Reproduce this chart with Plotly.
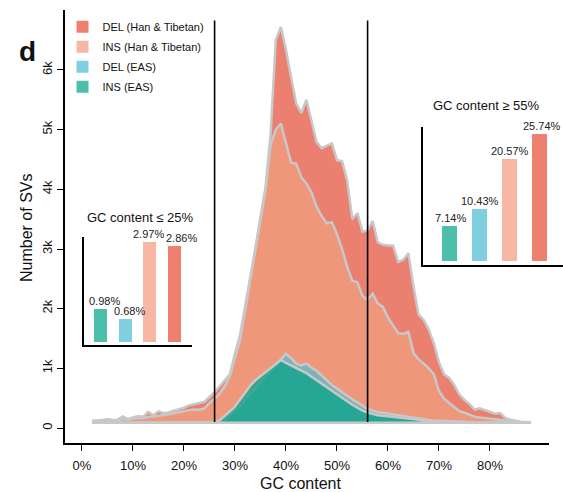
import plotly.graph_objects as go

# ---------------- data ----------------
gc_pct = list(range(2, 89))  # GC content bins (%)

del_han = [120,125,135,150,135,140,195,150,180,200,
           190,270,215,280,250,260,290,310,340,380,
           400,430,440,520,600,700,800,900,1250,1560,
           2050,2520,3020,3535,4050,4950,6500,6720,6340,5880,
           5440,5280,5500,5150,4790,4690,4730,4770,4490,4470,
           4150,3500,3600,3290,3310,3470,3110,3070,3060,3060,
           2780,2820,2930,2370,1900,1810,1650,1420,1100,900,
           840,720,560,470,400,310,330,300,270,240,
           250,170,140,120,105,100,95]

ins_han = [100,105,120,130,125,130,150,140,160,170,
           165,190,190,210,220,230,250,270,290,300,
           310,305,330,420,490,580,700,870,1180,1470,
           1980,2480,2980,3480,3980,4750,5000,5100,4750,4450,
           4430,4200,4100,3950,3710,3550,3430,3450,3250,3000,
           2700,2470,2440,2210,2150,2250,2090,2030,1850,1720,
           1590,1580,1610,1260,1150,1080,1000,900,620,490,
           420,350,280,255,220,190,175,165,150,140,
           134,120,108,100,95,92,90]

del_eas = [90]*24 + [95,110,150,220,300,370,480,580,680,770,
                     860,950,1050,1150,1240,1170,1080,1050,1080,1010,
                     960,880,800,720,660,600,530,480,430,370,
                     320,290,265,255,235,225,215,200,185,170,
                     155,145,135,125,120,115,110,105,100,98,
                     96,95,94,93,92,91,90,90,90,90,
                     90,90,90]

ins_eas = [90]*24 + [95,130,200,280,360,480,600,710,800,870,
                     930,1000,1070,1140,1090,1050,1010,970,920,860,
                     800,740,690,630,560,500,440,390,340,290,
                     260,235,215,205,195,185,175,160,150,140,
                     130,120,112,105,100,97,95,94,93,92,
                     91,90,90,90,90,90,90,90,90,90,
                     90,90,90]

floor_value = 90
threshold_x = [26, 56]
threshold_y = [100, 6830]

series_names = ["DEL (Han & Tibetan)", "INS (Han & Tibetan)", "DEL (EAS)", "INS (EAS)"]
legend_colors = ["#EE8070", "#F8B6A4", "#80CFE1", "#4DBEAA"]
fill_colors = ["#EB8070", "#EF977B", "#7FB2BA", "rgba(8,161,135,0.75)"]

x_tick_vals = [0, 10, 20, 30, 40, 50, 60, 70, 80]
x_tick_text = ["0%", "10%", "20%", "30%", "40%", "50%", "60%", "70%", "80%"]
y_tick_vals = [0, 1000, 2000, 3000, 4000, 5000, 6000]
y_tick_text = ["0", "1k", "2k", "3k", "4k", "5k", "6k"]

# inset bars: INS (EAS), DEL (EAS), INS (Han), DEL (Han)
bar_colors = ["#4DBEAA", "#80CFE1", "#F8B6A4", "#EE8070"]
low_gc_vals = [0.98, 0.68, 2.97, 2.86]
low_gc_text = ["0.98%", "0.68%", "2.97%", "2.86%"]
high_gc_vals = [7.14, 10.43, 20.57, 25.74]
high_gc_text = ["7.14%", "10.43%", "20.57%", "25.74%"]

FONT = "Liberation Sans, Arial, sans-serif"

fig = go.Figure()

# main overlapping areas
all_series = [del_han, ins_han, del_eas, ins_eas]
for name, vals, fc in zip(series_names, all_series, fill_colors):
    xp = gc_pct + gc_pct[::-1]
    yp = vals + [floor_value] * len(gc_pct)
    fig.add_trace(go.Scatter(
        x=xp, y=yp, fill="toself", fillcolor=fc, mode="lines",
        line=dict(color="#C8C8C8", width=2.5), showlegend=False,
        hoverinfo="skip", xaxis="x", yaxis="y"))

# threshold lines
for tx in threshold_x:
    fig.add_trace(go.Scatter(
        x=[tx, tx], y=threshold_y, mode="lines",
        line=dict(color="black", width=1.6), showlegend=False,
        hoverinfo="skip", xaxis="x", yaxis="y"))

# legend entries
for i, (name, col) in enumerate(zip(series_names, legend_colors)):
    fig.add_trace(go.Scatter(
        x=[None], y=[None], mode="markers", name=name,
        marker=dict(symbol="square", size=9, color=col),
        legendgroup=f"g{i}", showlegend=True, xaxis="x", yaxis="y"))

# inset bars
pos = [i + 1 for i in range(len(bar_colors))]
fig.add_trace(go.Bar(x=pos, y=low_gc_vals, marker=dict(color=bar_colors, line=dict(width=0)),
                     width=0.53, xaxis="x2", yaxis="y2", showlegend=False, hoverinfo="skip"))
fig.add_trace(go.Bar(x=pos, y=high_gc_vals, marker=dict(color=bar_colors, line=dict(width=0)),
                     width=0.5, xaxis="x3", yaxis="y3", showlegend=False, hoverinfo="skip"))

annotations = []
low_shift = [3.5, 4, -1.5, 6.5]
for p, v, t, s in zip(pos, low_gc_vals, low_gc_text, low_shift):
    annotations.append(dict(x=p, y=v, xref="x2", yref="y2", text=t, showarrow=False,
                            xanchor="center", yanchor="bottom", xshift=s, yshift=0,
                            font=dict(family=FONT, size=11, color="#222")))
high_shift = [1.5, 0.5, 0.5, 2.5]
for p, v, t, s in zip(pos, high_gc_vals, high_gc_text, high_shift):
    annotations.append(dict(x=p, y=v, xref="x3", yref="y3", text=t, showarrow=False,
                            xanchor="center", yanchor="bottom", xshift=s, yshift=0,
                            font=dict(family=FONT, size=11, color="#222")))

# titles/labels (paper coords: x 65..563 px, y 10..443 px)
W0, W = 65, 498
H0, H = 10, 433
def px(xp):
    return (xp - W0) / W
def py(yp):
    return (H0 + H - yp) / H

def label(xc, yc, text, size, angle=0):
    return dict(x=px(xc), y=py(yc), xref="paper", yref="paper", text=text,
                showarrow=False, xanchor="center", yanchor="middle", textangle=angle,
                font=dict(family=FONT, size=size, color="#111"))

annotations += [
    label(140, 217, "GC content ≤ 25%", 13),
    label(486, 105, "GC content ≥ 55%", 13),
    label(27, 51, "<b>d</b>", 28),
    label(26, 228, "Number of SVs", 16, -90),
    label(300, 483, "GC content", 16),
]

fig.update_layout(
    width=563, height=492,
    margin=dict(l=W0, r=0, t=H0, b=492 - H0 - H),
    paper_bgcolor="white", plot_bgcolor="white",
    font=dict(family=FONT, size=13, color="black"),
    showlegend=True,
    legend=dict(x=-0.005, y=0.995, xanchor="left", yanchor="top",
                font=dict(family=FONT, size=11, color="#111"),
                bgcolor="rgba(0,0,0,0)", tracegroupgap=1, itemsizing="constant"),
    xaxis=dict(domain=[0, (549 - W0) / W], range=[-3.33, 91.57],
               showline=True, linecolor="black", linewidth=1.5,
               ticks="outside", ticklen=6, tickwidth=1.2, tickcolor="black",
               tickvals=x_tick_vals, ticktext=x_tick_text,
               showgrid=False, zeroline=False, ticklabelstandoff=4,
               tickfont=dict(family=FONT, size=13, color="#111")),
    yaxis=dict(domain=[0, 1], range=[-251, 7005],
               showline=True, linecolor="black", linewidth=1.5,
               ticks="outside", ticklen=6, tickwidth=1.2, tickcolor="black",
               tickvals=y_tick_vals, ticktext=y_tick_text, tickangle=-90,
               showgrid=False, zeroline=False,
               tickfont=dict(family=FONT, size=13, color="#111")),
    xaxis2=dict(domain=[px(84), px(192)], range=[0.331, 4.709], anchor="y2",
                showline=True, linecolor="black", linewidth=1.5,
                showticklabels=False, ticks="", showgrid=False, zeroline=False),
    yaxis2=dict(domain=[py(345), py(237)], range=[-0.09, 3.13], anchor="x2",
                showline=True, linecolor="black", linewidth=1.5,
                showticklabels=False, ticks="", showgrid=False, zeroline=False),
    xaxis3=dict(domain=[px(423), px(563)], range=[0.117, 4.783], anchor="y3",
                showline=True, linecolor="black", linewidth=1.5,
                showticklabels=False, ticks="", showgrid=False, zeroline=False),
    yaxis3=dict(domain=[py(265), py(127)], range=[-0.81, 27.13], anchor="x3",
                showline=True, linecolor="black", linewidth=1.5,
                showticklabels=False, ticks="", showgrid=False, zeroline=False),
    annotations=annotations,
    bargap=0,
)

fig.write_html("out.html", config={"displayModeBar": False},
               post_script="document.body.style.margin='0';document.body.style.overflow='hidden';")
